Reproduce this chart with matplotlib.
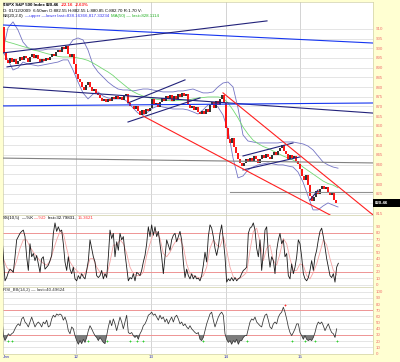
import matplotlib.pyplot as plt
import numpy as np
from matplotlib.patches import Rectangle
from matplotlib.transforms import blended_transform_factory

plt.rcParams['font.family'] = ['Liberation Sans', 'DejaVu Sans']

W, H = 400, 362

# ---------------- data (x unit = one 5-min bar) ----------------
# close of every second bar, starting at bar 2
close = [911.0, 897.5, 894.0, 892.5, 895.0, 893.0, 894.5, 892.0, 893.5, 895.5,
         894.0, 896.0, 895.0, 893.0, 895.5, 897.0, 895.0, 896.5, 894.5, 893.0,
         894.5, 893.5, 895.0, 894.0, 895.5, 897.0, 896.0, 898.0, 899.0, 898.0,
         900.5, 899.5, 901.0, 897.0, 895.5, 897.0, 892.0, 886.5, 884.0, 882.5,
         880.0, 878.5, 881.0, 882.5, 880.0, 878.0, 879.0, 877.0, 876.0, 874.5,
         873.0, 874.0, 872.5, 874.0, 873.0, 875.0, 874.0, 875.5, 874.0, 875.0,
         873.5, 875.5, 876.5, 872.0, 870.5, 870.0, 868.5, 870.0, 867.5, 865.5,
         868.0, 866.0, 868.5, 867.5, 869.0, 874.0, 871.0, 872.0, 869.5, 872.5,
         874.5, 873.0, 875.5, 874.0, 876.0, 873.0, 875.5, 874.0, 876.5, 875.0,
         877.0, 875.5, 876.5, 871.0, 869.0, 870.5, 868.0, 869.5, 867.0, 866.0,
         867.5, 866.0, 868.5, 867.0, 871.0, 872.5, 869.0, 873.0, 871.0, 874.0,
         876.0, 872.0, 859.0, 853.0, 851.0, 853.5, 849.0, 846.0, 843.0, 841.0,
         839.5, 841.0, 843.0, 841.5, 843.5, 842.0, 844.5, 843.0, 841.0, 843.0,
         845.0, 843.5, 845.5, 844.0, 843.0, 845.0, 846.5, 845.0, 847.0, 848.5,
         850.0, 847.0, 845.5, 843.0, 845.0, 843.5, 844.5, 842.0, 840.5, 838.0,
         834.0, 832.0, 834.5, 829.5, 824.0, 821.5, 823.5, 826.5, 825.0, 827.5,
         829.0, 827.5, 828.5, 826.0, 824.5, 825.5, 822.0, 820.5, 820.46]

# BB(20,2) and MA(50), one value every 5 bars from bar 3
bb_upper = [899.1, 910.5, 913.6, 909.4, 903.2, 900.2, 899.6, 899.1, 899.1, 899.6,
            899.6, 899.6, 899.6, 900.7, 904.3, 905.3, 904.3, 899.1, 891.4, 887.8,
            885.2, 882.6, 880.6, 879.0, 878.5, 878.5, 878.0, 878.5, 879.0, 879.0,
            878.5, 878.0, 877.5, 877.5, 877.5, 878.0, 878.0, 878.5, 879.0, 878.0,
            877.0, 877.0, 877.5, 880.1, 882.1, 882.6, 880.1, 869.2, 855.3, 852.2,
            851.7, 851.2, 851.2, 851.2, 851.2, 851.2, 851.7, 851.7, 851.7, 851.2,
            850.7, 849.6, 847.6, 844.5, 841.4, 839.9, 838.8, 838.2]
bb_lower = [898.1, 894.0, 888.8, 889.9, 892.9, 891.9, 891.4, 890.9, 891.4, 891.9,
            892.4, 892.9, 894.0, 894.0, 888.8, 882.6, 877.0, 873.9, 876.4, 877.5,
            875.4, 874.4, 873.9, 873.9, 873.9, 872.3, 869.2, 866.6, 865.6, 867.2,
            869.2, 870.3, 869.7, 869.2, 868.7, 868.7, 868.7, 868.2, 867.2, 866.1,
            868.2, 870.8, 871.3, 869.7, 865.6, 857.9, 843.5, 833.2, 834.2, 837.3,
            838.8, 839.9, 840.4, 840.9, 840.4, 839.9, 839.9, 839.3, 838.8, 836.2,
            831.1, 823.9, 816.7, 816.7, 818.7, 820.3, 819.2, 818.2]
ma50 = [904.3, 903.2, 902.5, 901.7, 900.9, 900.2, 899.1, 898.6, 897.8, 897.1,
        896.5, 895.8, 895.5, 895.5, 895.5, 895.0, 894.5, 893.7, 892.4, 890.9,
        889.3, 887.8, 886.0, 883.7, 881.6, 879.5, 877.7, 876.4, 875.4, 874.6,
        874.1, 873.6, 873.3, 873.1, 872.8, 873.1, 873.3, 873.3, 873.9, 874.4,
        874.6, 874.9, 874.9, 874.9, 874.4, 871.8, 868.2, 864.1, 859.4, 855.8,
        852.7, 850.9, 849.4, 848.4, 847.1, 845.8, 844.5, 843.5, 842.4, 840.9,
        838.8, 837.0, 835.2, 833.4, 831.6, 830.3, 829.5, 828.1]

# slow stochastic %K (every 5/3 bar) and %D (every 10/3 bar)
ss_k = [82, 43, 6, 11, 19, 24, 22, 19, 43, 69,
        74, 79, 82, 84, 74, 43, 22, 63, 43, 48,
        37, 45, 32, 19, 40, 43, 24, 27, 30, 37,
        45, 79, 95, 82, 89, 82, 84, 63, 35, 22,
        43, 24, 17, 27, 9, 6, 14, 9, 17, 12,
        9, 22, 37, 69, 56, 43, 35, 14, 11, 14,
        22, 9, 17, 11, 43, 84, 71, 79, 43, 66,
        53, 79, 69, 74, 48, 27, 6, 11, 9, 17,
        6, 19, 17, 14, 22, 35, 45, 63, 89, 74,
        92, 76, 89, 74, 82, 63, 43, 17, 43, 69,
        61, 53, 69, 76, 79, 66, 74, 82, 69, 35,
        11, 24, 14, 9, 17, 9, 14, 9, 10, 6,
        14, 30, 50, 35, 74, 92, 87, 74, 56, 45,
        58, 79, 92, 69, 43, 4, 9, 6, 11, 6,
        11, 6, 9, 11, 17, 22, 24, 27, 79, 87,
        89, 95, 84, 56, 43, 69, 22, 48, 84, 89,
        48, 27, 43, 37, 17, 53, 69, 79, 63, 69,
        43, 48, 14, 9, 32, 17, 27, 43, 69, 63,
        43, 17, 9, 6, 11, 22, 37, 22, 43, 53,
        69, 82, 87, 74, 58, 40, 27, 14, 11, 17,
        4, 27, 33]
ss_d = [58, 40, 27, 21, 22, 37, 56, 69, 69, 58,
        50, 43, 37, 33, 30, 36, 53, 69, 82, 79,
        56, 35, 27, 22, 17, 14, 22, 40, 40, 27,
        19, 17, 14, 35, 61, 61, 69, 63, 48, 27,
        17, 14, 14, 19, 45, 63, 79, 82, 71, 48,
        43, 50, 61, 69, 71, 58, 32, 17, 14, 12,
        10, 14, 27, 56, 69, 61, 58, 74, 53, 27,
        12, 9, 10, 14, 19, 53, 82, 87, 66, 37,
        56, 61, 37, 30, 48, 71, 63, 40, 22, 22,
        32, 30, 14, 9, 19, 32, 50, 69, 61, 40,
        22, 15]

# RSI(14), every 5/3 bar
rsi = [67, 29, 21, 26, 32, 29, 32, 34, 40, 45,
       48, 45, 56, 59, 51, 48, 43, 51, 59, 51,
       43, 48, 51, 48, 43, 51, 48, 54, 43, 45,
       56, 62, 59, 64, 62, 64, 62, 54, 59, 51,
       37, 32, 43, 40, 29, 21, 15, 21, 16, 23,
       18, 26, 37, 45, 40, 34, 29, 26, 21, 26,
       22, 18, 16, 29, 43, 54, 45, 56, 48, 37,
       48, 59, 51, 40, 51, 62, 34, 32, 34, 29,
       26, 29, 23, 32, 37, 45, 48, 54, 62, 64,
       67, 62, 64, 59, 54, 62, 56, 59, 51, 56,
       48, 54, 59, 51, 59, 62, 56, 48, 51, 45,
       48, 43, 40, 45, 40, 37, 34, 32, 34, 23,
       21, 26, 37, 48, 56, 64, 67, 54, 43, 51,
       59, 64, 67, 62, 32, 23, 18, 21, 15, 21,
       18, 23, 15, 21, 21, 26, 29, 29, 40, 51,
       56, 54, 59, 51, 48, 45, 43, 54, 62, 64,
       54, 43, 40, 48, 51, 48, 59, 64, 67, 75,
       67, 56, 43, 34, 29, 34, 40, 48, 48, 34,
       29, 23, 29, 23, 21, 23, 21, 26, 34, 45,
       51, 48, 51, 45, 37, 43, 48, 40, 34, 32,
       26, 40]
rsi_buy = [8, 12, 88, 107, 130, 137, 143, 203, 247, 292, 305, 315, 337]
rsi_sell = [285]

# hand-drawn trend lines: bar0, price0, bar1, price1, colour
trend_lines = [
    (3, 912.0, 373, 902.7, '#1535F0'),
    (3, 897.6, 267, 914.1, '#22227A'),
    (7, 890.4, 43, 893.0, '#22227A'),
    (2, 880.0, 373, 866.6, '#22227A'),
    (2, 870.3, 373, 871.8, '#1535F0'),
    (2, 843.4, 373, 840.9, '#808080'),
    (230, 825.9, 373, 825.9, '#909090'),
    (128, 871.8, 185, 883.7, '#22227A'),
    (128, 862.0, 200, 874.4, '#22227A'),
    (243, 844.5, 293, 851.2, '#22227A'),
    (243, 837.3, 300, 844.0, '#22227A'),
    (310, 821.8, 318, 826.9, '#22227A'),
    (223, 877.0, 373, 814.1, '#FF2020'),
    (143, 865.1, 330, 814.1, '#FF2020'),
]

price_ticks = list(range(815, 915, 5))
last_price = 820.46
day_grid = [76, 151, 226, 300]
day_label_pos = [6, 76, 151, 226, 300]
day_labels = ['Jan', '12', '13', '14', '15']

# ---------------- figure ----------------
fig = plt.figure(figsize=(W / 100, H / 100), dpi=100, facecolor='#FFFFD2')


def panel(top, bottom):
    return fig.add_axes([2.5 / W, 1 - bottom / H, (373 - 2.5) / W, (bottom - top) / H])


ax_p = panel(1.5, 215)
ax_s = panel(215, 287)
ax_r = panel(287, 354)

for ax in (ax_p, ax_s, ax_r):
    ax.set_facecolor('white')
    ax.set_xlim(2.5, 373)
    ax.yaxis.tick_right()
    ax.tick_params(axis='y', length=0, pad=1.8, labelsize=3.2, labelcolor='#F07070')
    ax.tick_params(axis='x', length=0)
    ax.grid(axis='y', color='#DADADA', lw=0.5)
    ax.set_axisbelow(True)
    for d in day_grid:
        ax.axvline(d, color='#CCCCCC', lw=0.6, zorder=0)
    for s in ax.spines.values():
        s.set_color('#D0D0A8')
        s.set_linewidth(0.5)
    ax.set_xticks([])

# price panel
ax_p.set_ylim(814.07, 924.1)
ax_p.set_yticks(price_ticks)
ax_p.set_yticklabels(['' if t == 820 else str(t) for t in price_ticks])

cx = 2 + 2 * np.arange(len(close))
c = np.array(close)
cols = np.where(c[1:] >= c[:-1], '#202020', '#FF0000')
ax_p.vlines(cx[1:], c[:-1], c[1:], colors=cols, lw=1.3, zorder=4)

bx = 3 + 5 * np.arange(len(bb_upper))
ax_p.plot(bx, bb_upper, color='#7474C4', lw=0.6, zorder=3)
ax_p.plot(bx, bb_lower, color='#7474C4', lw=0.6, zorder=3)
ax_p.plot(bx, ma50, color='#74D874', lw=0.6, zorder=3)

for b0, p0, b1, p1, col in trend_lines:
    ax_p.plot([b0, b1], [p0, p1], color=col, lw=0.8, zorder=5)

tr = blended_transform_factory(ax_p.transAxes, ax_p.transData)
ax_p.add_patch(Rectangle((1.0, last_price - 2.1), 0.075, 4.2, transform=tr,
                         facecolor='black', edgecolor='none', clip_on=False, zorder=6))
ax_p.text(1.006, last_price, f'{last_price:.2f}', transform=tr, ha='left', va='center',
          fontsize=3.2, color='white', fontweight='bold', zorder=7)

# stochastics panel
ax_s.set_ylim(-3.5, 107.2)
ax_s.set_yticks(range(0, 100, 10))
for lvl in (80, 20):
    ax_s.axhline(lvl, color='#F08888', lw=0.6, zorder=1)
ax_s.plot((np.arange(len(ss_d))) * 10 / 3, ss_d, color='#F4A4A4', lw=0.6, zorder=2)
ax_s.plot((np.arange(len(ss_k)) + 1) * 5 / 3, ss_k, color='#1A1A1A', lw=0.6, zorder=3)

# RSI panel
ax_r.set_ylim(-0.8, 107.7)
ax_r.set_yticks(range(0, 110, 10))
for lvl in (70, 30):
    ax_r.axhline(lvl, color='#F08888', lw=0.6, zorder=1)
rx = (np.arange(len(rsi)) + 1) * 5 / 3
r = np.array(rsi, dtype=float)
ax_r.fill_between(rx, r, 30, where=r < 30, interpolate=True, color='#7C7C7C', lw=0, zorder=2)
ax_r.plot(rx, r, color='#333333', lw=0.55, zorder=3)
ax_r.plot(rsi_buy, [21] * len(rsi_buy), '+', color='#30D030', ms=2, mew=0.6, zorder=4)
ax_r.plot(rsi_sell, [78] * len(rsi_sell), '+', color='#FF3030', ms=2, mew=0.6, zorder=4)
ax_r.set_xticks(day_label_pos)
ax_r.set_xticklabels(day_labels)
ax_r.tick_params(axis='x', labelsize=3.2, labelcolor='#3030C0', pad=1)

# ---------------- texts ----------------
renderer = fig.canvas.get_renderer()


def line_of(px, py, pieces, size=3.2):
    for s, col, wt in pieces:
        t = fig.text(px / W, 1 - py / H, s, color=col, fontsize=size, fontweight=wt,
                     ha='left', va='center')
        px = t.get_window_extent(renderer=renderer).x1 + 1.5


line_of(3, 5, [('$SPX S&P 500 Index', 'black', 'bold'), ('820.46', 'black', 'bold'),
               ('-22.16', '#FF2020', 'bold'), ('-2.63%', '#FF2020', 'bold')])
line_of(3, 11, [('D: 01/12/2009  6:50am O:882.55 H:882.55 L:880.85 C:882.70 R:1.70 V:',
                 'black', 'normal')])
line_of(3, 16.5, [('BB(20,2.0)', 'black', 'normal'),
                  ('\u2014upper \u2014lower last=838.16366,817.33234', '#3434F0', 'normal'),
                  ('MA(50) \u2014 last=828.1114', '#22B022', 'normal')])
line_of(3, 218, [('SS(10,5)', 'black', 'normal'), ('\u2014%K', 'black', 'normal'),
                 ('\u2014%D', '#FF3030', 'normal'), ('last=32.79831,', 'black', 'normal'),
                 ('15.3621', '#FF3030', 'normal')])
line_of(3, 289.5, [('RSI_BB(14,2) \u2014 last=40.49624', '#303030', 'normal')])

fig.savefig('out.png', dpi=100, facecolor=fig.get_facecolor())
